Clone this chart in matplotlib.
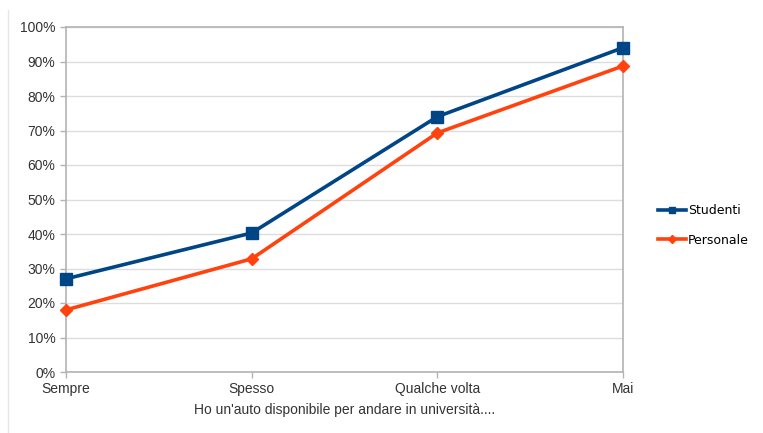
import matplotlib
matplotlib.use('Agg')
import matplotlib.pyplot as plt
from matplotlib.lines import Line2D
from matplotlib.ticker import PercentFormatter

categories = ['Sempre', 'Spesso', 'Qualche volta', 'Mai']
studenti = [27, 40.3, 74, 94]
personale = [18, 32.8, 69.3, 88.7]
yticks = list(range(0, 101, 10))

plt.rcParams['font.family'] = ['Liberation Sans Narrow', 'Liberation Sans', 'DejaVu Sans']

fig = plt.figure(figsize=(7.63, 4.33), dpi=100)
ax = fig.add_axes([66 / 763, 1 - 372 / 433, (623 - 66) / 763, (372 - 27) / 433])

x = list(range(len(categories)))
ax.plot(x, studenti, color='#004586', lw=2.6, marker='s', ms=8, label='Studenti',
        clip_on=False, zorder=3)
ax.plot(x, personale, color='#ff420e', lw=2.6, marker='D', ms=6.5, label='Personale',
        clip_on=False, zorder=3)

ax.set_xlim(0, 3)
ax.set_ylim(0, 100)
ax.set_xticks(x)
ax.set_xticklabels(categories)
ax.set_yticks(yticks)
ax.yaxis.set_major_formatter(PercentFormatter(decimals=0))
ax.grid(axis='y', color='#dddddd', lw=1)
ax.set_axisbelow(True)
for s in ax.spines.values():
    s.set_color('#b3b3b3')
    s.set_linewidth(1.2)
ax.tick_params(axis='both', colors='#b3b3b3', labelcolor='#333333', labelsize=10,
               length=4, width=1)
ax.tick_params(axis='x', pad=3)
ax.set_xlabel("Ho un'auto disponibile per andare in università....", fontsize=10,
              color='#333333', labelpad=5)

leg = ax.legend(loc='center left', bbox_to_anchor=(1.042, 0.425), frameon=False,
                handlelength=2.3, handletextpad=0.1, labelspacing=1.35,
                markerscale=0.6, prop={'family': 'DejaVu Sans', 'size': 9})

# light border at left edge of the image
fig.add_artist(Line2D([8 / 763, 8 / 763], [0, 1 - 10 / 433], color='#e6e6e6', lw=1))

fig.savefig('out.png', dpi=100)
